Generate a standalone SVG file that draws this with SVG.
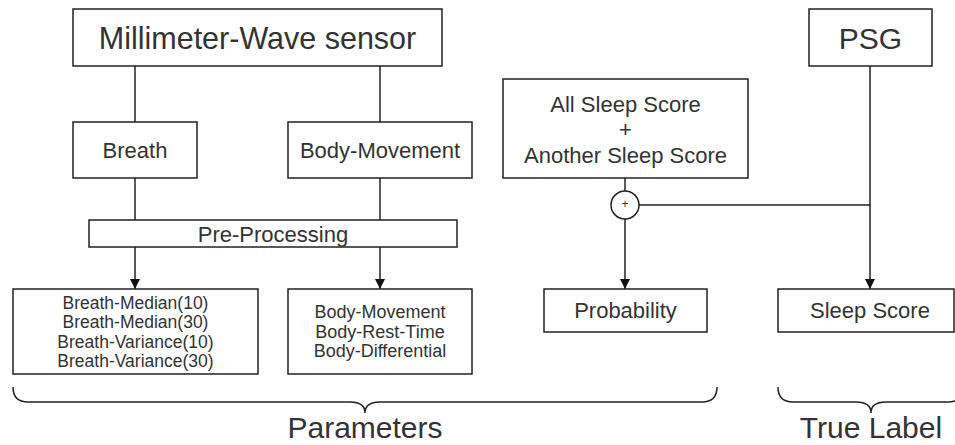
<svg xmlns="http://www.w3.org/2000/svg" width="955" height="445" viewBox="0 0 955 445">
<defs>
<style>
.box{fill:#fff;stroke:#222;stroke-width:1.5}
.t{font-family:"Liberation Sans",Arial,sans-serif;fill:#333;text-anchor:middle;dominant-baseline:central}
.line{fill:none;stroke:#222;stroke-width:1.5}
</style>
<marker id="arr" viewBox="0 0 10 10" refX="10" refY="5" markerWidth="10" markerHeight="10" markerUnits="userSpaceOnUse" orient="auto">
<path d="M0,0 L10,5 L0,10 z" fill="#111"/>
</marker>
</defs>
<rect width="955" height="445" fill="#fff"/>
<g id="connectors">
<path class="line" d="M135,66 V122"/>
<path class="line" d="M380,66 V122"/>
<path class="line" d="M135,178 V220"/>
<path class="line" d="M380,178 V220"/>
<path class="line" d="M135,247 V289" marker-end="url(#arr)"/>
<path class="line" d="M380,247 V289" marker-end="url(#arr)"/>
<path class="line" d="M625,178 V191"/>
<path class="line" d="M625,219 V289" marker-end="url(#arr)"/>
<path class="line" d="M639,205 H870"/>
<path class="line" d="M870,66 V289" marker-end="url(#arr)"/>
</g>
<g id="mmwave"><rect class="box" x="73" y="9" width="369" height="57"/><text class="t" x="257.5" y="38" font-size="30.5">Millimeter-Wave sensor</text></g>
<g id="psg"><rect class="box" x="809" y="9" width="123" height="57"/><text class="t" x="870.5" y="38" font-size="30">PSG</text></g>
<g id="breath"><rect class="box" x="73" y="122" width="124" height="56"/><text class="t" x="135" y="150" font-size="22">Breath</text></g>
<g id="bodymovement"><rect class="box" x="288" y="122" width="184" height="56"/><text class="t" x="380" y="150" font-size="22">Body-Movement</text></g>
<g id="allsleep"><rect class="box" x="503" y="79" width="245" height="99"/>
<text class="t" x="625.5" y="104" font-size="22">All Sleep Score</text>
<text class="t" x="625.5" y="129" font-size="22">+</text>
<text class="t" x="625.5" y="155" font-size="22">Another Sleep Score</text></g>
<g id="plus"><circle cx="625" cy="205" r="14" fill="#fff" stroke="#222" stroke-width="1.5"/><text class="t" x="625" y="204" font-size="12">+</text></g>
<g id="preprocessing"><rect class="box" x="89" y="220" width="368" height="27"/><text class="t" x="273" y="234" font-size="22">Pre-Processing</text></g>
<g id="breathparams"><rect class="box" x="13" y="289" width="245" height="85"/>
<text class="t" x="135.5" y="303" font-size="17.5">Breath-Median(10)</text>
<text class="t" x="135.5" y="322" font-size="17.5">Breath-Median(30)</text>
<text class="t" x="135.5" y="341.5" font-size="17.5">Breath-Variance(10)</text>
<text class="t" x="135.5" y="360.5" font-size="17.5">Breath-Variance(30)</text></g>
<g id="bodyparams"><rect class="box" x="288" y="289" width="184" height="85"/>
<text class="t" x="380" y="312" font-size="18">Body-Movement</text>
<text class="t" x="380" y="331.5" font-size="18">Body-Rest-Time</text>
<text class="t" x="380" y="351" font-size="18">Body-Differential</text></g>
<g id="probability"><rect class="box" x="544" y="289" width="163" height="43"/><text class="t" x="625.5" y="310.5" font-size="22">Probability</text></g>
<g id="sleepscore"><rect class="box" x="778" y="289" width="176" height="43"/><text class="t" x="870" y="310.5" font-size="22">Sleep Score</text></g>
<g id="parameters-brace"><path class="line" d="M13,387 Q13,402 28,402 H350 Q365,402 365,413 Q365,402 380,402 H702 Q717,402 717,387"/><text class="t" x="365" y="438" font-size="30" style="dominant-baseline:auto">Parameters</text></g>
<g id="truelabel-brace"><path class="line" d="M778,387 Q778,402 793,402 H856 Q871,402 871,413 Q871,402 886,402 H948 Q963,402 963,387"/><text class="t" x="871" y="438" font-size="30" style="dominant-baseline:auto">True Label</text></g>
</svg>
